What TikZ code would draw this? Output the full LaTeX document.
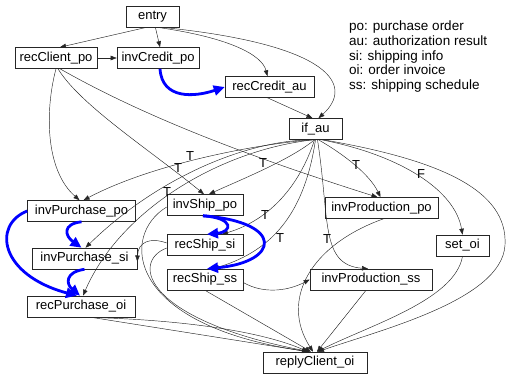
\documentclass[tikz,border=0pt]{standalone}
\usepackage{fontspec}
\setmainfont{Liberation Sans}
\usetikzlibrary{arrows.meta}

\begin{document}
\begin{tikzpicture}[x=1pt,y=-1pt,
  box/.style={draw=black!85, line width=0.6pt, minimum height=21pt, inner sep=0pt,
              font=\fontsize{13}{15}\selectfont},
  edge/.style={line width=0.45pt, draw=black!85, -{Triangle[length=6pt,width=4.5pt]}},
  flow/.style={draw=blue, line width=2.8pt, -{Triangle[length=11pt,width=10pt]}},
  lbl/.style={font=\fontsize{13}{15}\selectfont, inner sep=0pt},
  legend/.style={font=\fontsize{13.5}{14.6}\selectfont, align=left, inner sep=0pt, anchor=north west}]
\useasboundingbox (0,0) rectangle (510,377);

% activities
\node[box,minimum width=53pt]  (entry)           at (152.5,17)   {entry};
\node[box,minimum width=82pt]  (recClient)       at (56,58)      {recClient\_po};
\node[box,minimum width=82pt]  (invCredit)       at (158,58)     {invCredit\_po};
\node[box,minimum width=89pt]  (recCredit)       at (269.5,87)   {recCredit\_au};
\node[box,minimum width=53pt]  (ifau)            at (315.5,129)  {if\_au};
\node[box,minimum width=108pt] (invPurchasePo)   at (81.5,211)   {invPurchase\_po};
\node[box,minimum width=105pt] (invPurchaseSi)   at (84.5,258.5) {invPurchase\_si};
\node[box,minimum width=108pt] (recPurchaseOi)   at (81,306.5)   {recPurchase\_oi};
\node[box,minimum width=76pt]  (invShipPo)       at (205,205)    {invShip\_po};
\node[box,minimum width=76pt]  (recShipSi)       at (205,245)    {recShip\_si};
\node[box,minimum width=76pt]  (recShipSs)       at (205,279.5)  {recShip\_ss};
\node[box,minimum width=113pt] (invProductionPo) at (381.5,208)  {invProduction\_po};
\node[box,minimum width=53pt]  (setOi)           at (462.5,245.5){set\_oi};
\node[box,minimum width=122pt] (invProductionSs) at (371,279.5)  {invProduction\_ss};
\node[box,minimum width=104pt] (replyClient)     at (315,362.5)  {replyClient\_oi};

% abbreviations
\node[legend] (key) at (349,21) {po: purchase order\\au: authorization result\\si: shipping info\\oi: order invoice\\ss: shipping schedule};

% control links
\draw[edge] ([xshift=-8]entry.south) -- ([xshift=4]recClient.north);
\draw[edge] ([xshift=3]entry.south) -- ([xshift=2]invCredit.north);
\draw[edge] ([xshift=8]entry.south) .. controls (230,38) and (262,55) .. ([xshift=-2]recCredit.north);
\draw[edge] ([xshift=14]entry.south) .. controls (330,45) and (355,85) .. ([xshift=3]ifau.north);
\draw[edge] (recClient.east) -- (invCredit.west);
\draw[edge] ([xshift=-2]recCredit.south) -- ([xshift=-3]ifau.north);

\draw[edge] (recClient.south) .. controls (45,110) and (45,170) .. ([xshift=-2]invPurchasePo.north);
\draw[edge] ([xshift=2]recClient.south) .. controls (80,105) and (150,150) .. ([xshift=-1]invShipPo.north);
\draw[edge] ([xshift=4]recClient.south) .. controls (150,120) and (260,160) .. ([xshift=-4]invProductionPo.north);

% branches of if_au
\draw[edge] ([xshift=-4]ifau.south) .. controls (250,145) and (150,165) .. ([xshift=2]invPurchasePo.north);
\draw[edge] ([xshift=-3]ifau.south) .. controls (250,140) and (160,175) .. ([xshift=1]invPurchaseSi.north);
\draw[edge] ([xshift=-2]ifau.south) .. controls (220,150) and (120,210) .. ([xshift=2]recPurchaseOi.north);
\draw[edge] ([xshift=-1]ifau.south) .. controls (290,160) and (240,180) .. ([xshift=4]invShipPo.north);
\draw[edge] ([xshift=3]ifau.south) .. controls (345,155) and (370,175) .. ([xshift=-1]invProductionPo.north);
\draw[edge] ([xshift=6]ifau.south) .. controls (400,155) and (455,190) .. (setOi.north);
\draw[edge] ([xshift=-1]ifau.south) .. controls (300,185) and (270,220) .. ([xshift=17]recShipSi.north);
\draw[edge] (ifau.south) .. controls (305,210) and (275,250) .. ([xshift=8]recShipSs.north);
\draw[edge] ([xshift=2]ifau.south) .. controls (330,220) and (320,265) .. ([xshift=-3]invProductionSs.north);
\coordinate (farRight) at (505,245);
\draw[edge] ([xshift=8]ifau.south) .. controls (440,160) and (508,190) .. (farRight)
            .. controls (502,300) and (380,330) .. ([xshift=3]replyClient.north);

\node[lbl] (tA) at (190,156) {T};
\node[lbl] (tB) at (178,168) {T};
\node[lbl] (tC) at (167,192) {T};
\node[lbl] (tD) at (263,163) {T};
\node[lbl] (tE) at (356,165) {T};
\node[lbl] (fF) at (421,174) {F};
\node[lbl] (tG) at (265,215) {T};
\node[lbl] (tH) at (280,238) {T};
\node[lbl] (tI) at (327,239) {T};

% links into the reply
\draw[edge] (setOi.south) .. controls (455,300) and (370,325) .. ([xshift=2]replyClient.north);
\draw[edge] ([xshift=-5]invProductionSs.south) -- ([xshift=2]replyClient.north);
\draw[edge] ([xshift=2]invProductionPo.south) .. controls (310,245) and (280,300) .. ([xshift=-2]replyClient.north);
\draw[edge] ([yshift=-3]recShipSs.east) .. controls (265,295) and (290,290) .. (invProductionSs.west);
\draw[edge] (recShipSs.south) -- ([xshift=-4]replyClient.north);
\draw[edge] ([yshift=2]recShipSi.west) .. controls (150,237) and (138,242) .. ([yshift=-3]invPurchaseSi.east);
\draw[edge] ([yshift=-3]recShipSi.west) .. controls (130,262) and (145,320) .. ([xshift=-5]replyClient.north);
\draw[edge] ([yshift=-2]invShipPo.west) .. controls (120,235) and (125,325) .. ([xshift=-6]replyClient.north);
\draw[edge] ([xshift=4]recPurchaseOi.south) .. controls (200,320) and (270,335) .. ([xshift=-7]replyClient.north);
\draw[edge] ([xshift=10]recPurchaseOi.south) -- ([xshift=-7]replyClient.north);

% data flows
\draw[flow] ([xshift=2]invCredit.south) .. controls (162,100) and (195,97) .. (recCredit.west);
\draw[flow] (invPurchasePo.south) .. controls (62,224) and (65,236) .. ([xshift=-3]invPurchaseSi.north);
\draw[flow] (invPurchaseSi.south) .. controls (65,272) and (66,284) .. ([xshift=-1]recPurchaseOi.north);
\draw[flow] (invPurchasePo.west) .. controls (-8,225) and (0,275) .. ([xshift=-4]recPurchaseOi.north);
\draw[flow] ([xshift=-2]invShipPo.south) .. controls (235,218) and (232,232) .. ([xshift=2]recShipSi.north);
\draw[flow] ([xshift=-2]invShipPo.south) .. controls (285,222) and (280,262) .. ([xshift=2]recShipSs.north);
\end{tikzpicture}
\end{document}
